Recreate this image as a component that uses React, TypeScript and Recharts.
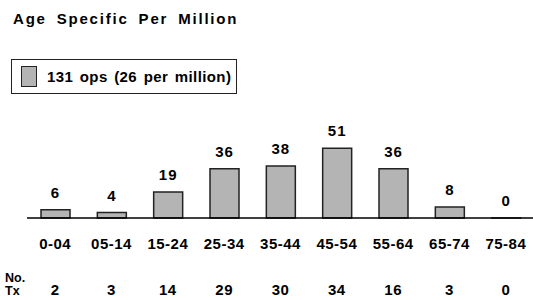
import React from 'react';
import { BarChart, Bar, XAxis, YAxis, LabelList, Legend } from 'recharts';

const ageGroups = ['0-04', '05-14', '15-24', '25-34', '35-44', '45-54', '55-64', '65-74', '75-84'];
const perMillion = [6, 4, 19, 36, 38, 51, 36, 8, 0];
const txCounts = [2, 3, 14, 29, 30, 34, 16, 3, 0];

const FONT = '"Liberation Sans", Arial, Helvetica, sans-serif';
const BAR_FILL = '#b4b4b4';

const data = ageGroups.map((age, i) => ({ age, perMillion: perMillion[i] }));

// category label plus the "No. Tx" count row underneath it
function AgeTick(props: any) {
  const { x, y, payload, index } = props;
  const i = payload?.index ?? index;
  const textStyle = { fontFamily: FONT, fontWeight: 700, fontSize: 15, letterSpacing: 0.5 };
  return (
    <g>
      <text x={x} y={y + 31} textAnchor="middle" fill="#000" style={textStyle}>
        {payload.value}
      </text>
      <text x={x} y={y + 77} textAnchor="middle" fill="#000" style={textStyle}>
        {txCounts[i]}
      </text>
    </g>
  );
}

function LegendBox() {
  return (
    <div
      style={{
        boxSizing: 'border-box',
        width: 226,
        height: 35,
        border: '1px solid #222',
        background: '#fff',
        display: 'flex',
        alignItems: 'center',
        paddingLeft: 9,
        fontFamily: FONT,
        fontWeight: 700,
        fontSize: 15,
        letterSpacing: 0.4,
        wordSpacing: 2,
        color: '#000',
      }}
    >
      <span
        style={{
          display: 'inline-block',
          boxSizing: 'border-box',
          width: 16,
          height: 21,
          background: BAR_FILL,
          border: '1px solid #222',
          marginRight: 10,
        }}
      />
      <span>131 ops (26 per million)</span>
    </div>
  );
}

export default function App() {
  return (
    <div
      style={{
        position: 'fixed',
        left: 0,
        top: 0,
        width: 533,
        height: 300,
        overflow: 'hidden',
        background: '#fff',
        fontFamily: FONT,
      }}
    >
      <div
        style={{
          position: 'absolute',
          left: 13,
          top: 11,
          fontSize: 15,
          lineHeight: '15px',
          fontWeight: 700,
          letterSpacing: 1.8,
          wordSpacing: 4,
          color: '#000',
          whiteSpace: 'nowrap',
        }}
      >
        Age Specific Per Million
      </div>

      <BarChart
        width={534}
        height={300}
        data={data}
        margin={{ top: 136, right: 0, bottom: 0, left: 27 }}
      >
        <YAxis hide domain={[0, 60]} />
        <XAxis
          dataKey="age"
          height={82}
          tickLine={false}
          tickSize={0}
          tickMargin={0}
          axisLine={{ stroke: '#000', strokeWidth: 1.5 }}
          tick={<AgeTick />}
          interval={0}
        />
        <Legend
          layout="vertical"
          align="center"
          verticalAlign="middle"
          wrapperStyle={{ top: 59, left: 11, width: 226, height: 35 }}
          content={() => <LegendBox />}
        />
        <Bar
          dataKey="perMillion"
          fill={BAR_FILL}
          stroke="#222"
          strokeWidth={1.5}
          barSize={29}
          minPointSize={0.01}
          isAnimationActive={false}
        >
          <LabelList
            dataKey="perMillion"
            position="top"
            offset={12}
            fill="#000"
            style={{ fontFamily: FONT, fontWeight: 700, fontSize: 15, letterSpacing: 1 }}
          />
        </Bar>
      </BarChart>

      <div
        style={{
          position: 'absolute',
          left: 5,
          top: 272,
          fontSize: 12.5,
          lineHeight: '13px',
          fontWeight: 700,
          color: '#000',
        }}
      >
        No.
        <br />
        Tx
      </div>
    </div>
  );
}
